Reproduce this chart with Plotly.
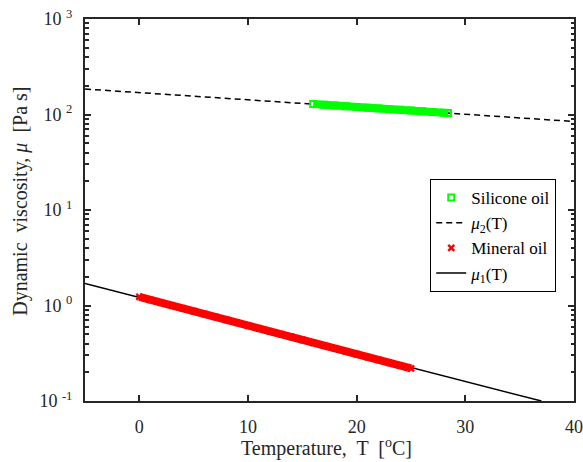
import plotly.graph_objects as go

# Mineral oil measurements (T in degC, viscosity in Pa s)
T_mineral = [0, 1, 2, 3, 4, 5, 6, 7, 8, 9, 10, 11, 12, 13, 14, 15, 16, 17, 18, 19, 20, 21, 22, 23, 24, 25]
mu_mineral = [1.23, 1.148, 1.072, 1.000, 0.933, 0.871, 0.813, 0.759, 0.708, 0.661, 0.617, 0.575, 0.537,
              0.501, 0.468, 0.437, 0.407, 0.380, 0.355, 0.331, 0.309, 0.288, 0.269, 0.251, 0.234, 0.219]

# Silicone oil measurements
T_silicone = [16, 17, 18, 19, 20, 21, 22, 23, 24, 25, 26, 27, 28, 28.4]
mu_silicone = [128.5, 126.3, 124.1, 122.0, 119.9, 117.8, 115.8, 113.8, 111.8, 109.9, 108.0, 106.1, 104.3, 103.6]

# Fit lines
mu1_T = [-5, 37]
mu1_vals = [1.70, 0.10]
mu2_T = [-5, 40]
mu2_vals = [185, 84.5]

x_ticks = [0, 10, 20, 30, 40]
y_ticks = [0.1, 1, 10, 100, 1000]
y_ticktext = ["10 <sup>-1</sup>", "10 <sup>0</sup>", "10 <sup>1</sup>", "10 <sup>2</sup>", "10 <sup>3</sup>"]
y_minor = [k * d for d in [0.1, 1, 10, 100] for k in range(2, 10)]

AX = "#262626"
GREEN = "#00FF00"
RED = "#FF0000"
FONT = "Liberation Serif"

fig = go.Figure()

# fitted lines (drawn first, under the data)
fig.add_trace(go.Scatter(x=mu2_T, y=mu2_vals, mode="lines", name="<i>μ</i><sub>2</sub>(T)",
                         line=dict(color="black", width=1.5, dash="6px,4px"), legendrank=2))
fig.add_trace(go.Scatter(x=mu1_T, y=mu1_vals, mode="lines", name="<i>μ</i><sub>1</sub>(T)",
                         line=dict(color="black", width=1.5), legendrank=4))

# dense data bands
fig.add_trace(go.Scatter(x=T_silicone, y=mu_silicone, mode="lines",
                         line=dict(color=GREEN, width=8), showlegend=False, hoverinfo="skip"))
fig.add_trace(go.Scatter(x=T_mineral, y=mu_mineral, mode="lines",
                         line=dict(color=RED, width=8), showlegend=False, hoverinfo="skip"))

fig.add_trace(go.Scatter(x=T_silicone, y=mu_silicone, mode="markers", name="Silicone oil",
                         marker=dict(symbol="square-open", size=6, color=GREEN, line=dict(width=2, color=GREEN)),
                         legendrank=1))
fig.add_trace(go.Scatter(x=T_mineral, y=mu_mineral, mode="markers", name="Mineral oil",
                         marker=dict(symbol="x-thin-open", size=6, color=RED, line=dict(width=2.5, color=RED)),
                         legendrank=3))

fig.update_layout(
    width=583, height=462,
    margin=dict(l=85, r=9, t=19, b=61),
    plot_bgcolor="white", paper_bgcolor="white",
    font=dict(family=FONT, size=17, color=AX),
    legend=dict(x=0.706, y=0.581, xanchor="left", yanchor="top",
                bordercolor="black", borderwidth=1, bgcolor="white", itemwidth=30,
                font=dict(size=17, color="black"), tracegroupgap=0),
    xaxis=dict(range=[-5, 40], tickvals=x_ticks, ticks="inside", ticklen=6, tickwidth=2,
               tickcolor=AX, showline=True, linecolor=AX, linewidth=2, mirror="allticks",
               showgrid=False, zeroline=False, ticklabelstandoff=8, automargin=False,
               tickfont=dict(size=18, family=FONT, color=AX)),
    yaxis=dict(type="log", range=[-1, 3], tickvals=y_ticks, ticktext=y_ticktext,
               ticks="inside", ticklen=6, tickwidth=2, tickcolor=AX,
               showline=True, linecolor=AX, linewidth=2, mirror="allticks",
               showgrid=False, zeroline=False, ticklabelstandoff=7, automargin=False,
               tickfont=dict(size=18, family=FONT, color=AX),
               minor=dict(tickvals=y_minor, ticks="inside", ticklen=3.5, tickwidth=1.5, tickcolor=AX, showgrid=False)),
    annotations=[
        dict(text="Temperature,  T  [<sup>o</sup>C]", xref="paper", yref="paper", x=0.494, y=-0.123,
             xanchor="center", yanchor="middle", showarrow=False, font=dict(size=20, family=FONT, color=AX)),
        dict(text="Dynamic  viscosity, <i>μ</i>  [Pa s]", xref="paper", yref="paper", x=-0.131, y=0.524,
             xanchor="center", yanchor="middle", textangle=-90, showarrow=False,
             font=dict(size=20, family=FONT, color=AX)),
    ],
)

fig.write_html("out.html", config={"displayModeBar": False},
               post_script="document.body.style.margin='0px';")
